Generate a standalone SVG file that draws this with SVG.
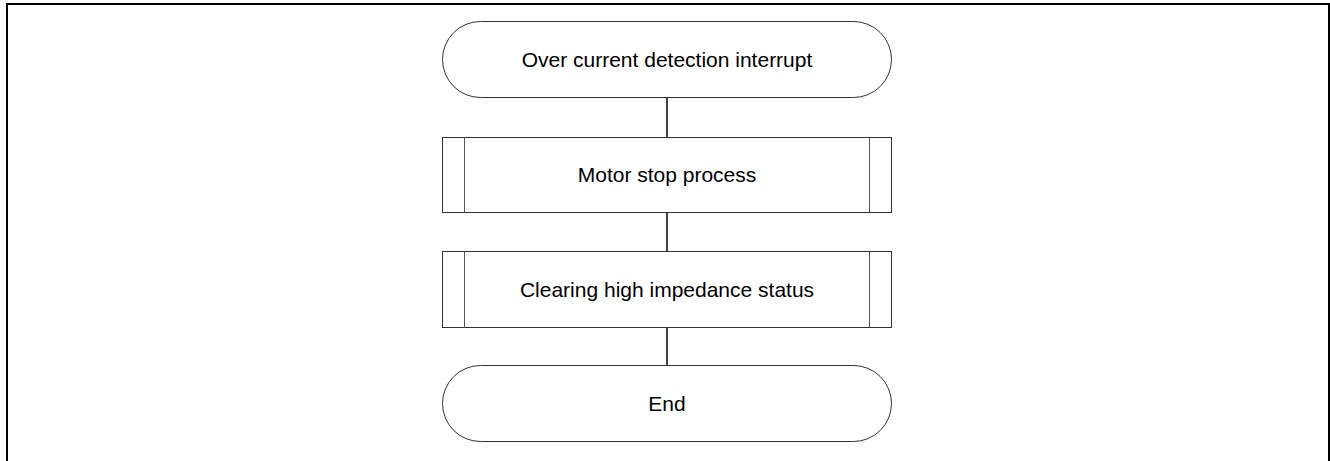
<svg xmlns="http://www.w3.org/2000/svg" width="1330" height="461" viewBox="0 0 1330 461">
<style>
.shape{fill:#fff;stroke:#333;stroke-width:1}
.inner{stroke:#555;stroke-width:1}
.conn{stroke:#000;stroke-width:1.5;fill:none}
text{font-family:"Liberation Sans",Arial,sans-serif;font-size:21px;fill:#000;text-anchor:middle}
</style>
<rect width="1330" height="461" fill="#fff"/>
<path d="M7,465 V4 H1329 V465" fill="none" stroke="#000" stroke-width="2"/>
<g id="connectors">
<line class="conn" x1="667" y1="98" x2="667" y2="137"/>
<line class="conn" x1="667" y1="212" x2="667" y2="251"/>
<line class="conn" x1="667" y1="327" x2="667" y2="366"/>
</g>
<g id="start">
<rect class="shape" x="442.5" y="21.5" width="449" height="76" rx="38" ry="38"/>
<text x="667" y="67">Over current detection interrupt</text>
</g>
<g id="motor-stop">
<rect class="shape" x="442.5" y="137.5" width="449" height="75"/>
<line class="inner" x1="464.5" y1="137.5" x2="464.5" y2="212.5"/>
<line class="inner" x1="869.5" y1="137.5" x2="869.5" y2="212.5"/>
<text x="667" y="182">Motor stop process</text>
</g>
<g id="clear-hiz">
<rect class="shape" x="442.5" y="251.5" width="449" height="76"/>
<line class="inner" x1="464.5" y1="251.5" x2="464.5" y2="327.5"/>
<line class="inner" x1="869.5" y1="251.5" x2="869.5" y2="327.5"/>
<text x="667" y="297">Clearing high impedance status</text>
</g>
<g id="end">
<rect class="shape" x="442.5" y="365.5" width="449" height="76" rx="38" ry="38"/>
<text x="667" y="411">End</text>
</g>
</svg>
